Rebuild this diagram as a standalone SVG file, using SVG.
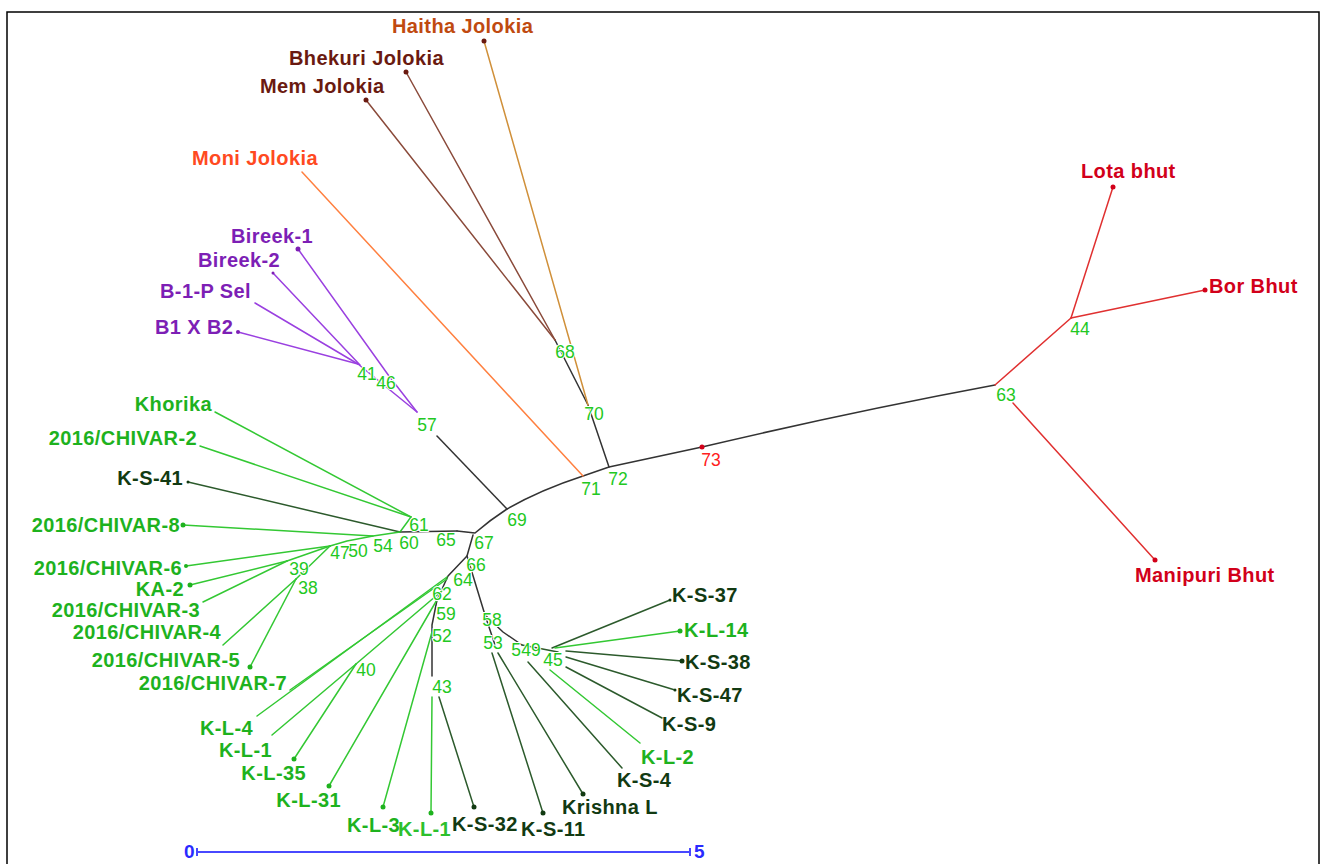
<svg xmlns="http://www.w3.org/2000/svg" width="1321" height="864" viewBox="0 0 1321 864">
<style>
.leaf{font-family:"Liberation Sans",Arial,sans-serif;font-weight:bold;font-size:20px;letter-spacing:0.4px}
.g{fill:#1eb21e}
.dk{fill:#123a12}
.pu{fill:#7d1fb5}
.rd{fill:#d2001a}
.br{fill:#6a1a10}
.ha{fill:#c04a10}
.mo{fill:#ff4a1f}
.nl{font-family:"Liberation Sans",Arial,sans-serif;font-size:17.5px;fill:#22c822;text-anchor:middle;stroke:#fff;stroke-width:2px;paint-order:stroke}
.e{fill:none;stroke-width:1.5;stroke-linecap:round;stroke-linejoin:round}
.bk{stroke:#333}
.lg{stroke:#33c833}
.ld{stroke:#2c5a2c}
.lp{stroke:#9a40e0}
.lr{stroke:#e03030}
.lo{stroke:#ff8040}
.lh{stroke:#d0903a}
.lb{stroke:#8a4a3a}
.end{text-anchor:end}
</style>
<rect x="7" y="12" width="1312" height="880" fill="#fff" stroke="#000" stroke-width="1.5"/>
<g id="connectors">
<path class="e bk" d="M995,385 Q850,412 702,447 L609,467 L583,476 Q540,490 507,509 Q490,520 475,533 L457,531"/>
<path class="e bk" d="M457,531 L400,532"/>
<path class="e bk" d="M437,436 L507,509"/>
<path class="e bk" d="M555,340 L588,405 L609,467"/>
<path class="e bk" d="M473,535 L467,556 L448,576 L437,600 L432,625 L432,676"/>
<path class="e bk" d="M467,556 L485,615 L495,645"/>
<path class="e bk" d="M485,615 L503,632 L522,645"/>
<path class="e ld" d="M522,645 L558,652"/>
<path class="e lr" d="M995,385 L1071,318"/>
<path class="e lr" d="M1071,318 L1113,187"/>
<path class="e lr" d="M1071,318 L1205,290"/>
<path class="e lr" d="M1013,403 L1155,560"/>
<path class="e lh" d="M484,41 L588,405"/>
<path class="e lb" d="M406,72 L555,340"/>
<path class="e lb" d="M366,100 L555,340"/>
<path class="e lo" d="M302,172 L583,476"/>
<path class="e lp" d="M298,249 L389,376 L417,412"/>
<path class="e lp" d="M273,273 L360,365"/>
<path class="e lp" d="M255,303 L358,364"/>
<path class="e lp" d="M238,332 L358,364"/>
<path class="e lp" d="M358,364 L417,412"/>
<path class="e lg" d="M215,412 L411,517"/>
<path class="e lg" d="M200,446 L411,517"/>
<path class="e lg" d="M411,517 L400,532"/>
<path class="e ld" d="M188,482 L400,532"/>
<path class="e lg" d="M400,532 L373,536 L347,541 L330,546"/>
<path class="e lg" d="M183,525 L373,536"/>
<path class="e lg" d="M186,566 L330,546"/>
<path class="e lg" d="M330,546 L287,561"/>
<path class="e lg" d="M330,546 L296,579"/>
<path class="e lg" d="M190,585 L287,561"/>
<path class="e lg" d="M203,602 L287,561"/>
<path class="e lg" d="M223,645 L296,579"/>
<path class="e lg" d="M250,667 L296,579"/>
<path class="e lg" d="M290,690 L447,579"/>
<path class="e lg" d="M257,716 L447,577"/>
<path class="e lg" d="M356,664 L443,590"/>
<path class="e lg" d="M272,735 L356,664"/>
<path class="e lg" d="M294,759 L356,664"/>
<path class="e lg" d="M329,786 L438,598"/>
<path class="e lg" d="M383,807 L432,632"/>
<path class="e lg" d="M431,813 L432,697"/>
<path class="e ld" d="M474,807 L439,697"/>
<path class="e ld" d="M543,813 L492,653"/>
<path class="e ld" d="M583,794 L498,653"/>
<path class="e ld" d="M622,768 L528,662"/>
<path class="e ld" d="M670,600 L552,648"/>
<path class="e lg" d="M680,631 L555,648"/>
<path class="e ld" d="M682,661 L566,651"/>
<path class="e ld" d="M675,690 L566,657"/>
<path class="e ld" d="M662,718 L566,667"/>
<path class="e lg" d="M640,743 L550,670"/>
<g fill="#d2001a"><circle cx="1113" cy="187" r="2.5"/><circle cx="1205" cy="290" r="2.5"/><circle cx="1155" cy="560" r="2.5"/><circle cx="702" cy="447" r="2.5"/></g>
<g fill="#6a1a10"><circle cx="484" cy="41" r="2.5"/><circle cx="406" cy="72" r="2.5"/><circle cx="366" cy="100" r="2.5"/></g>
<g fill="#7d1fb5"><circle cx="298" cy="249" r="2.5"/><circle cx="273" cy="273" r="1.5"/><circle cx="238" cy="332" r="2"/></g>
<g fill="#1eb21e"><circle cx="183" cy="525" r="2.5"/><circle cx="186" cy="566" r="2"/><circle cx="190" cy="585" r="2.5"/><circle cx="250" cy="667" r="2.5"/><circle cx="294" cy="759" r="2.5"/><circle cx="329" cy="786" r="2.5"/><circle cx="383" cy="807" r="2.5"/><circle cx="431" cy="813" r="2.5"/><circle cx="680" cy="631" r="2.5"/></g>
<g fill="#123a12"><circle cx="188" cy="482" r="1.5"/><circle cx="474" cy="807" r="2.5"/><circle cx="543" cy="813" r="2.5"/><circle cx="583" cy="794" r="2.5"/><circle cx="682" cy="661" r="2.5"/><circle cx="670" cy="600" r="1.5"/><circle cx="675" cy="690" r="1.5"/></g>
</g>
<g id="scale">
<path d="M197,852 H690 M197,848 V856 M690,848 V856" stroke="#4848ff" stroke-width="2" fill="none"/>
<text x="184" y="858" class="leaf" style="fill:#2a2aff;font-size:19px">0</text>
<text x="694" y="858" class="leaf" style="fill:#2a2aff;font-size:19px">5</text>
</g>
<g id="internal-nodes">
<text class="nl" x="565" y="358">68</text>
<text class="nl" x="594" y="420">70</text>
<text class="nl" x="591" y="495">71</text>
<text class="nl" x="618" y="485">72</text>
<text class="nl" x="711" y="466" style="fill:#ff2020">73</text>
<text class="nl" x="517" y="526">69</text>
<text class="nl" x="427" y="431">57</text>
<text class="nl" x="367" y="380">41</text>
<text class="nl" x="386" y="389">46</text>
<text class="nl" x="1006" y="401">63</text>
<text class="nl" x="1080" y="335">44</text>
<text class="nl" x="419" y="531">61</text>
<text class="nl" x="409" y="549">60</text>
<text class="nl" x="446" y="546">65</text>
<text class="nl" x="484" y="549">67</text>
<text class="nl" x="476" y="571">66</text>
<text class="nl" x="383" y="552">54</text>
<text class="nl" x="358" y="557">50</text>
<text class="nl" x="340" y="559">47</text>
<text class="nl" x="299" y="575">39</text>
<text class="nl" x="308" y="594">38</text>
<text class="nl" x="442" y="600">62</text>
<text class="nl" x="463" y="586">64</text>
<text class="nl" x="446" y="620">59</text>
<text class="nl" x="442" y="642">52</text>
<text class="nl" x="442" y="693">43</text>
<text class="nl" x="366" y="676">40</text>
<text class="nl" x="492" y="626">58</text>
<text class="nl" x="493" y="649">53</text>
<text class="nl" x="516" y="656">5</text>
<text class="nl" x="531" y="656">49</text>
<text class="nl" x="553" y="666">45</text>
</g>
<g id="leaves">
<text class="leaf ha" x="392" y="33">Haitha Jolokia</text>
<text class="leaf br" x="289" y="65">Bhekuri Jolokia</text>
<text class="leaf br" x="260" y="93">Mem Jolokia</text>
<text class="leaf mo" x="192" y="165">Moni Jolokia</text>
<text class="leaf pu" x="231" y="243">Bireek-1</text>
<text class="leaf pu" x="198" y="267">Bireek-2</text>
<text class="leaf pu" x="160" y="298">B-1-P Sel</text>
<text class="leaf pu" x="155" y="334">B1 X B2</text>
<text class="leaf rd" x="1081" y="178">Lota bhut</text>
<text class="leaf rd" x="1209" y="293">Bor Bhut</text>
<text class="leaf rd" x="1135" y="582">Manipuri Bhut</text>
<text class="leaf g end" x="212" y="411">Khorika</text>
<text class="leaf g end" x="197" y="445">2016/CHIVAR-2</text>
<text class="leaf dk end" x="183" y="485">K-S-41</text>
<text class="leaf g end" x="180" y="532">2016/CHIVAR-8</text>
<text class="leaf g end" x="182" y="575">2016/CHIVAR-6</text>
<text class="leaf g end" x="184" y="596">KA-2</text>
<text class="leaf g end" x="200" y="617">2016/CHIVAR-3</text>
<text class="leaf g end" x="221" y="639">2016/CHIVAR-4</text>
<text class="leaf g end" x="240" y="667">2016/CHIVAR-5</text>
<text class="leaf g end" x="287" y="690">2016/CHIVAR-7</text>
<text class="leaf g end" x="253" y="735">K-L-4</text>
<text class="leaf g end" x="272" y="757">K-L-1</text>
<text class="leaf g end" x="306" y="780">K-L-35</text>
<text class="leaf g end" x="341" y="807">K-L-31</text>
<text class="leaf g" x="347" y="832">K-L-3</text>
<text class="leaf g" x="398" y="836" style="fill:#2cc02c">K-L-1</text>
<text class="leaf dk" x="452" y="831">K-S-32</text>
<text class="leaf dk" x="521" y="836">K-S-11</text>
<text class="leaf dk" x="562" y="814">Krishna L</text>
<text class="leaf dk" x="617" y="787">K-S-4</text>
<text class="leaf g" x="641" y="764">K-L-2</text>
<text class="leaf dk" x="662" y="731">K-S-9</text>
<text class="leaf dk" x="677" y="702">K-S-47</text>
<text class="leaf dk" x="685" y="669">K-S-38</text>
<text class="leaf g" x="684" y="637">K-L-14</text>
<text class="leaf dk" x="672" y="602">K-S-37</text>
</g>
</svg>
